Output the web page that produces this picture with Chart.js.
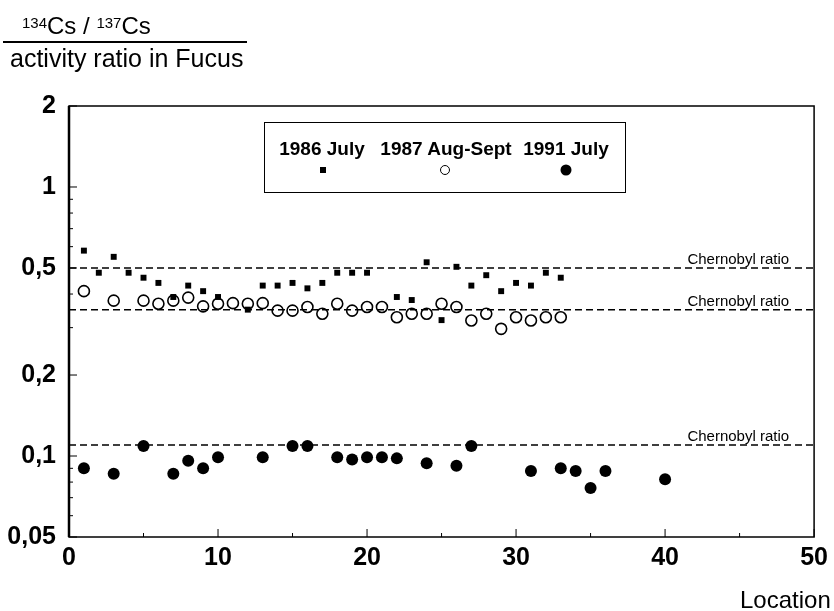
<!DOCTYPE html>
<html>
<head>
<meta charset="utf-8">
<script src="https://cdn.jsdelivr.net/npm/chart.js@4"></script>
<style>
  body { margin: 0; background: #fff; font-family: "Liberation Sans", Arial, sans-serif; color: #000; }
  #wrap { position: relative; width: 834px; height: 611px; }
  canvas { position: absolute; left: 0; top: 0; }
  .abs { position: absolute; white-space: nowrap; }
  #num { left: 22px; top: 14px; font-size: 24px; line-height: 24px; }
  #num sup { font-size: 15px; position: relative; top: -3px; vertical-align: top; }
  #rule { left: 3px; top: 41px; width: 244px; height: 2px; background: #000; }
  #den { left: 10px; top: 46px; font-size: 25px; line-height: 25px; }
  #legend { left: 264px; top: 122px; width: 360px; height: 69px; border: 1.5px solid #000; }
  .lab { font-size: 19px; font-weight: bold; top: 138px; transform: translateX(-50%); }
  .mk { position: absolute; transform: translate(-50%, -50%); }
  #location { left: 740px; top: 588px; font-size: 24px; line-height: 24px; }
</style>
</head>
<body>
<div id="wrap">
  <canvas id="chart" width="834" height="611"></canvas>
  <div class="abs" id="num"><sup>134</sup>Cs / <sup>137</sup>Cs</div>
  <div class="abs" id="rule"></div>
  <div class="abs" id="den">activity ratio in Fucus</div>
  <div class="abs" id="legend"></div>
  <div class="abs lab" style="left:322px">1986 July</div>
  <div class="abs lab" style="left:446px">1987 Aug-Sept</div>
  <div class="abs lab" style="left:566px">1991 July</div>
  <div class="mk" style="left:323px; top:170px; width:6px; height:6px; background:#000"></div>
  <div class="mk" style="left:445px; top:170px; width:8px; height:8px; border:1.5px solid #000; border-radius:50%"></div>
  <div class="mk" style="left:566px; top:170px; width:11px; height:11px; background:#000; border-radius:50%"></div>
  <div class="abs" id="location">Location</div>
</div>
<script>
// 1986 July
const loc1986 = [1, 2, 3, 4, 5, 6, 7, 8, 9, 10, 12, 13, 14, 15, 16, 17, 18, 19, 20, 22, 23, 24, 25, 26, 27, 28, 29, 30, 31, 32, 33];
const ratio1986 = [0.58, 0.48, 0.55, 0.48, 0.46, 0.44, 0.39, 0.43, 0.41, 0.39, 0.35, 0.43, 0.43, 0.44, 0.42, 0.44, 0.48, 0.48, 0.48, 0.39, 0.38, 0.525, 0.32, 0.505, 0.43, 0.47, 0.41, 0.44, 0.43, 0.48, 0.46];

// 1987 Aug-Sept
const loc1987 = [1, 3, 5, 6, 7, 8, 9, 10, 11, 12, 13, 14, 15, 16, 17, 18, 19, 20, 21, 22, 23, 24, 25, 26, 27, 28, 29, 30, 31, 32, 33];
const ratio1987 = [0.41, 0.378, 0.378, 0.368, 0.378, 0.388, 0.36, 0.368, 0.37, 0.368, 0.37, 0.347, 0.347, 0.358, 0.338, 0.368, 0.347, 0.358, 0.358, 0.328, 0.338, 0.338, 0.368, 0.358, 0.319, 0.338, 0.297, 0.328, 0.319, 0.328, 0.328];

// 1991 July
const loc1991 = [1, 3, 5, 7, 8, 9, 10, 13, 15, 16, 18, 19, 20, 21, 22, 24, 26, 27, 31, 33, 34, 35, 36, 40];
const ratio1991 = [0.09, 0.086, 0.109, 0.086, 0.096, 0.09, 0.099, 0.099, 0.109, 0.109, 0.099, 0.097, 0.099, 0.099, 0.098, 0.094, 0.092, 0.109, 0.088, 0.09, 0.088, 0.076, 0.088, 0.082];

// Chernobyl reference ratios for each campaign
const chernobylRatios = [0.5, 0.35, 0.11];

// axis ticks
const yLabelTicks = [0.05, 0.1, 0.2, 0.5, 1, 2];
const yMinorTicks = [0.06, 0.07, 0.08, 0.09, 0.3, 0.4, 0.6, 0.7, 0.8, 0.9];
const xLabelTicks = [0, 10, 20, 30, 40, 50];
const xMinorTicks = [5, 15, 25, 35, 45];

const FONT = '"Liberation Sans", Arial, sans-serif';

function points(xs, ys) {
    return xs.map((x, i) => ({ x: x, y: ys[i] }));
}

// frame, inward ticks and the "Chernobyl ratio" notes
const frameTicks = {
    id: "frameTicks",
    afterDraw(chart) {
        const { ctx, chartArea: a, scales } = chart;
        ctx.save();
        ctx.strokeStyle = "#000";
        ctx.lineWidth = 1.5;
        ctx.strokeRect(a.left, a.top, a.right - a.left, a.bottom - a.top);
        ctx.lineWidth = 2.5;
        ctx.beginPath();
        ctx.moveTo(a.left, a.top);
        ctx.lineTo(a.left, a.bottom);
        ctx.stroke();

        ctx.lineWidth = 1;
        ctx.beginPath();
        yLabelTicks.forEach(v => {
            const py = scales.y.getPixelForValue(v);
            ctx.moveTo(a.left, py);
            ctx.lineTo(a.left + 8, py);
        });
        yMinorTicks.forEach(v => {
            const py = scales.y.getPixelForValue(v);
            ctx.moveTo(a.left, py);
            ctx.lineTo(a.left + 4, py);
        });
        xLabelTicks.forEach(v => {
            const px = scales.x.getPixelForValue(v);
            ctx.moveTo(px, a.bottom);
            ctx.lineTo(px, a.bottom - 8);
        });
        xMinorTicks.forEach(v => {
            const px = scales.x.getPixelForValue(v);
            ctx.moveTo(px, a.bottom);
            ctx.lineTo(px, a.bottom - 4);
        });
        ctx.stroke();

        ctx.fillStyle = "#000";
        ctx.font = "15px " + FONT;
        ctx.textAlign = "right";
        chernobylRatios.forEach(r => {
            ctx.fillText("Chernobyl ratio", a.right - 25, scales.y.getPixelForValue(r) - 4);
        });
        ctx.restore();
    },
};

const refLines = chernobylRatios.map(r => ({
    type: "line",
    data: [{ x: 0, y: r }, { x: 50, y: r }],
    borderColor: "#000",
    borderWidth: 1.5,
    borderDash: [7, 4],
    pointRadius: 0,
    fill: false,
}));

new Chart(document.getElementById("chart"), {
    type: "scatter",
    data: {
        datasets: [
            ...refLines,
            {
                label: "1986 July",
                data: points(loc1986, ratio1986),
                pointStyle: "rect",
                pointRadius: 4.2,
                backgroundColor: "#000",
                borderColor: "#000",
                borderWidth: 0,
            },
            {
                label: "1987 Aug-Sept",
                data: points(loc1987, ratio1987),
                pointStyle: "circle",
                pointRadius: 5.5,
                backgroundColor: "rgba(0,0,0,0)",
                borderColor: "#000",
                borderWidth: 1.6,
            },
            {
                label: "1991 July",
                data: points(loc1991, ratio1991),
                pointStyle: "circle",
                pointRadius: 6,
                backgroundColor: "#000",
                borderColor: "#000",
                borderWidth: 0,
            },
        ],
    },
    options: {
        responsive: false,
        animation: false,
        devicePixelRatio: 1,
        layout: { padding: { top: 106, right: 13, left: 0, bottom: 0 } },
        plugins: {
            legend: { display: false },
            tooltip: { enabled: false },
        },
        scales: {
            x: {
                type: "linear",
                min: 0,
                max: 50,
                grid: { display: false, drawTicks: false },
                border: { display: false },
                ticks: {
                    stepSize: 10,
                    padding: 6,
                    color: "#000",
                    font: { family: FONT, size: 25, weight: "bold" },
                },
                afterFit: scale => { scale.height = 74; },
            },
            y: {
                type: "logarithmic",
                min: 0.05,
                max: 2,
                grid: { display: false, drawTicks: false },
                border: { display: false },
                afterBuildTicks: scale => {
                    scale.ticks = yLabelTicks.map(v => ({ value: v }));
                },
                ticks: {
                    autoSkip: false,
                    padding: 13,
                    color: "#000",
                    font: { family: FONT, size: 25, weight: "bold" },
                    callback: v => String(v).replace(".", ","),
                },
                afterFit: scale => { scale.width = 69; },
            },
        },
    },
    plugins: [frameTicks],
});
</script>
</body>
</html>
